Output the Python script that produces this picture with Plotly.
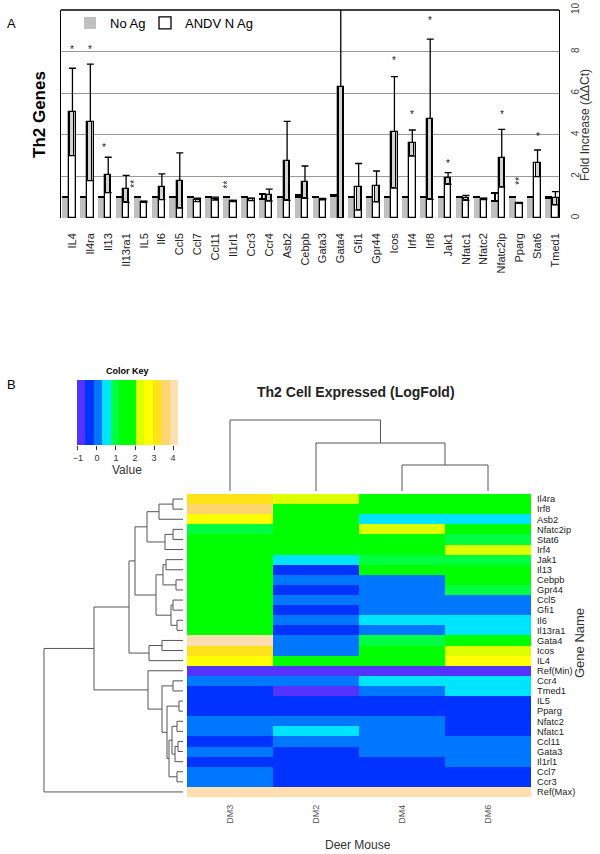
import plotly.graph_objects as go

# ---------------- Panel A data ----------------
genes = ["IL4", "Il4ra", "Il13", "Il13ra1", "IL5", "Il6", "Ccl5", "Ccl7", "Ccl11", "Il1rl1",
         "Ccr3", "Ccr4", "Asb2", "Cebpb", "Gata3", "Gata4", "Gfi1", "Gpr44", "Icos", "Irf4",
         "Irf8", "Jak1", "Nfatc1", "Nfatc2", "Nfatc2ip", "Pparg", "Stat6", "Tmed1"]
no_ag = [1.0, 1.0, 1.0, 1.0, 1.0, 1.0, 1.0, 1.0, 1.0, 1.0,
         1.0, 0.92, 1.0, 1.0, 1.0, 1.08, 1.0, 1.0, 1.0, 1.0,
         1.0, 1.0, 1.0, 1.0, 0.8, 1.0, 1.0, 0.95]
no_ag_err = [0.03, 0.03, 0.03, 0.03, 0.03, 0.03, 0.03, 0.03, 0.03, 0.03,
             0.03, 0.22, 0.03, 0.1, 0.03, 0.04, 0.03, 0.03, 0.03, 0.03,
             0.03, 0.03, 0.03, 0.03, 0.39, 0.03, 0.03, 0.04]
andv = [5.1, 4.6, 2.07, 1.4, 0.78, 1.5, 1.8, 0.87, 0.93, 0.82,
        0.9, 1.1, 2.75, 1.72, 0.9, 6.3, 1.5, 1.52, 4.12, 3.6,
        4.75, 1.9, 0.97, 0.92, 2.87, 0.72, 2.63, 0.95]
andv_err = [2.1, 2.8, 0.85, 0.65, 0.03, 0.62, 1.33, 0.08, 0.07, 0.03,
            0.06, 0.29, 1.9, 0.78, 0.03, 7.1, 1.12, 0.74, 2.68, 0.63,
            3.85, 0.28, 0.12, 0.04, 1.39, 0.02, 0.64, 0.32]
star_genes = ["IL4", "Il4ra", "Il13", "Il13ra1", "Il1rl1", "Icos", "Irf4", "Irf8",
              "Jak1", "Nfatc2ip", "Pparg", "Stat6"]
star_heights = [8.1, 8.1, 3.4, 1.66, 1.6, 7.55, 5.0, 9.5, 2.6, 5.0, 1.78, 3.9]
star_marks = ["*", "*", "*", "**", "**", "*", "*", "*", "*", "*", "**", "*"]
y_ticks = [0, 2, 4, 6, 8, 10]

# ---------------- Panel B data ----------------
heat_cols = ["DM3", "DM2", "DM4", "DM6"]
heat_rows = ["Il4ra", "Irf8", "Asb2", "Nfatc2ip", "Stat6", "Irf4", "Jak1", "Il13", "Cebpb",
             "Gpr44", "Ccl5", "Gfi1", "Il6", "Il13ra1", "Gata4", "Icos", "IL4", "Ref(Min)",
             "Ccr4", "Tmed1", "IL5", "Pparg", "Nfatc2", "Nfatc1", "Ccl11", "Gata3", "Il1rl1",
             "Ccl7", "Ccr3", "Ref(Max)"]
heat_values = [
    [3.15, 2.25, 1.5, 1.5],
    [3.6, 1.5, 1.5, 1.5],
    [2.7, 1.5, 0.5, 0.5],
    [0.95, 1.5, 2.25, 1.5],
    [1.5, 1.5, 1.5, 0.95],
    [1.5, 1.5, 1.5, 2.25],
    [1.5, 0.5, 0.95, 0.95],
    [1.5, -0.4, 1.5, 1.5],
    [1.5, 0.05, 0.05, 1.5],
    [1.5, -0.4, 0.05, 0.95],
    [1.5, 0.05, 0.05, 0.05],
    [1.5, -0.4, 0.05, 0.05],
    [1.5, 0.05, 0.5, 0.5],
    [1.5, -0.4, 0.05, 0.5],
    [4.05, 0.05, 0.95, 1.5],
    [3.15, 0.05, 1.5, 2.25],
    [2.7, 1.5, 1.5, 2.7],
    [-0.8, -0.8, -0.8, -0.8],
    [0.05, 0.05, 0.5, 0.5],
    [-0.4, -0.8, 0.05, 0.5],
    [-0.4, -0.4, -0.4, -0.4],
    [-0.4, -0.4, -0.4, -0.4],
    [0.05, 0.05, 0.05, -0.4],
    [0.05, 0.5, 0.05, -0.4],
    [-0.4, 0.05, 0.05, 0.05],
    [0.05, -0.4, 0.05, 0.05],
    [-0.4, -0.4, -0.4, 0.05],
    [0.05, -0.4, -0.4, -0.4],
    [0.05, -0.4, -0.4, -0.4],
    [4.05, 4.05, 4.05, 4.05],
]
key_colors = ["#5533FF", "#0033FF", "#0077FF", "#00E5FF", "#00FF40", "#00FF00",
              "#00FF00", "#DDFF00", "#FFFF00", "#FFE31A", "#FFD66E", "#FFDFB0"]
key_min, key_max = -1.05, 4.26
key_ticks = [-1, 0, 1, 2, 3, 4]

# dendrograms: (left, right, merge height); ints are leaf indices in display order
col_tree = (0, (1, (2, 3, 26), 48), 71)
row_tree = (
    (
        (
            (((0, 1, 10), 2, 24), ((3, 4, 10), 5, 18), 36),
            (((6, 7, 17), (8, 9, 7), 20), ((10, 11, 10), (12, 13, 6), 12), 27),
            48,
        ),
        ((14, 15, 21), 16, 34),
        54,
    ),
    (17, ((18, 19, 10), ((20, 21, 4), (((22, 23, 6), ((24, 25, 5), 26, 8), 11), (27, 28, 6), 14), 16), 21), 35),
    89,
)
row_tree = (row_tree, 29, 139)

# ---------------- helpers ----------------
FONT = "Liberation Sans, Arial, sans-serif"
W, H = 600, 854


def px(x):
    return x / W


def py(y):
    return 1 - y / H


def dendro_segments(node, a_list, b_list):
    """returns (position, height); appends elbow segments (position, height)."""
    if isinstance(node, int):
        return float(node), 0.0
    left, right, h = node
    pl, hl = dendro_segments(left, a_list, b_list)
    pr, hr = dendro_segments(right, a_list, b_list)
    a_list.extend([pl, pl, pr, pr, None])
    b_list.extend([hl, h, h, hr, None])
    return (pl + pr) / 2, h


fig = go.Figure()

# ---------------- Panel A traces ----------------
xi = list(range(len(genes)))
fig.add_trace(go.Bar(
    x=xi, y=no_ag, offset=-0.58, width=0.39, name="No Ag", legend="legend",
    marker=dict(color="#c0c0c0", line=dict(width=0)),
    error_y=dict(type="data", array=no_ag_err, arrayminus=[0] * len(no_ag),
                 color="black", thickness=2, width=3.5),
    xaxis="x", yaxis="y"))
fig.add_trace(go.Bar(
    x=xi, y=andv, offset=-0.18, width=0.36, name="ANDV N Ag", cliponaxis=False,
    legend="legend2",
    marker=dict(color="white", line=dict(color="black", width=1.3)),
    error_y=dict(type="data", array=andv_err, symmetric=True,
                 color="black", thickness=1.3, width=3.5),
    xaxis="x", yaxis="y"))
box_base = [max(v - e, 0) for v, e in zip(andv, andv_err)]
box_h = [v - b for v, b in zip(andv, box_base)]
fig.add_trace(go.Bar(
    x=xi, y=box_h, base=box_base, offset=-0.11, width=0.22, showlegend=False,
    marker=dict(color="#d2d2d2", line=dict(color="black", width=1)),
    xaxis="x", yaxis="y", hoverinfo="skip"))

star_nudge = {"Il13": -0.24, "Il13ra1": 0.45, "Il1rl1": -0.32}
annotations = []
for g, hgt, m in zip(star_genes, star_heights, star_marks):
    annotations.append(dict(
        x=genes.index(g) + star_nudge.get(g, 0), y=hgt, xref="x", yref="y",
        text=m, showarrow=False, textangle=-90 if len(m) > 1 else 0,
        xanchor="center", yanchor="middle",
        font=dict(size=10, color="#222", family=FONT)))

# ---------------- Panel B traces ----------------
n = len(key_colors)
cscale = []
for i, c in enumerate(key_colors):
    cscale.append([i / n, c])
    cscale.append([(i + 1) / n, c])

fig.add_trace(go.Heatmap(
    z=heat_values, x=list(range(len(heat_cols))), y=list(range(len(heat_rows))),
    colorscale=cscale, zmin=key_min, zmax=key_max, showscale=False,
    xaxis="x2", yaxis="y2", hoverinfo="skip"))

step = (key_max - key_min) / n
key_centers = [key_min + step * (i + 0.5) for i in range(n)]
fig.add_trace(go.Heatmap(
    z=[key_centers], x=key_centers, y=[0], colorscale=cscale, zmin=key_min, zmax=key_max,
    showscale=False, xaxis="x3", yaxis="y3", hoverinfo="skip"))

cx, ch = [], []
dendro_segments(col_tree, cx, ch)
fig.add_trace(go.Scatter(x=cx, y=ch, mode="lines", line=dict(color="#555", width=1),
                         showlegend=False, xaxis="x4", yaxis="y4", hoverinfo="skip"))
ry, rh = [], []
dendro_segments(row_tree, ry, rh)
fig.add_trace(go.Scatter(x=rh, y=ry, mode="lines", line=dict(color="#555", width=1),
                         showlegend=False, xaxis="x5", yaxis="y5", hoverinfo="skip"))


# ---------------- text ----------------
def txt(x, y, s, size, bold=False, angle=0, color="black"):
    annotations.append(dict(
        x=px(x), y=py(y), xref="paper", yref="paper", showarrow=False,
        xanchor="center", yanchor="middle",
        text=f"<b>{s}</b>" if bold else s, textangle=angle,
        font=dict(size=size, color=color, family=FONT)))


txt(11, 23, "A", 13)
txt(39, 115, "Th2 Genes", 17, bold=True, angle=-90)
txt(585, 125, "Fold Increase (ΔΔCt)", 12, angle=-90, color="#333")
txt(11, 385, "B", 13)
txt(127, 371, "Color Key", 9, bold=True)
txt(127, 470, "Value", 12, color="#333")
txt(356, 392, "Th2 Cell Expressed (LogFold)", 14, bold=True, color="#222")
txt(358, 845, "Deer Mouse", 12, color="#333")
txt(579, 643, "Gene Name", 13, angle=-90, color="#333")

common = dict(automargin=False, zeroline=False)
hidden = dict(common, showgrid=False, showticklabels=False, ticks="", showline=False)
leg = dict(orientation="h", yanchor="top", xanchor="left", y=py(8),
           font=dict(size=13, family=FONT), bgcolor="rgba(0,0,0,0)", itemwidth=30)

fig.update_layout(
    width=W, height=H, margin=dict(l=0, r=0, t=0, b=0, autoexpand=False),
    paper_bgcolor="white", plot_bgcolor="rgba(0,0,0,0)",
    font=dict(family=FONT, color="black"),
    barmode="overlay", bargap=0,
    showlegend=True,
    legend=dict(leg, x=px(70)),
    legend2=dict(leg, x=px(145)),
    xaxis=dict(common, domain=[px(61), px(559)], range=[-0.64, 27.2], anchor="y",
               tickmode="array", tickvals=xi, ticktext=genes, tickangle=-90,
               tickfont=dict(size=11, color="#222"), ticks="", ticklabelstandoff=12,
               showgrid=False, showline=False),
    yaxis=dict(common, domain=[py(218), py(10)], range=[0, 10], anchor="x", side="right",
               tickmode="array", tickvals=y_ticks, tickangle=-90,
               tickfont=dict(size=10, color="#444"), ticks="", ticklabelstandoff=7,
               showgrid=True, gridcolor="#9a9a9a", gridwidth=1.2,
               showline=True, linecolor="black", linewidth=1.3, mirror=True),
    xaxis2=dict(common, domain=[px(187), px(531)], range=[-0.5, 3.5], anchor="y2",
                tickmode="array", tickvals=list(range(len(heat_cols))), ticktext=heat_cols,
                tickangle=-90, tickfont=dict(size=9, color="#555"), ticks="",
                ticklabelstandoff=5, showgrid=False, showline=False),
    yaxis2=dict(common, domain=[py(797), py(494)], range=[len(heat_rows) - 0.5, -0.5], anchor="x2",
                side="right", tickmode="array", tickvals=list(range(len(heat_rows))),
                ticktext=heat_rows, tickfont=dict(size=9.3, color="#222"),
                ticks="", ticklabelstandoff=5, showgrid=False, showline=False),
    xaxis3=dict(common, domain=[px(77), px(178)], range=[key_min, key_max], anchor="y3",
                tickmode="array", tickvals=key_ticks, ticks="outside", ticklen=4,
                tickcolor="#333", tickfont=dict(size=9, color="#333"),
                showgrid=False, showline=False),
    yaxis3=dict(hidden, domain=[py(445), py(380)], range=[-0.5, 0.5], anchor="x3"),
    xaxis4=dict(hidden, domain=[px(187), px(531)], range=[-0.5, 3.5], anchor="y4"),
    yaxis4=dict(hidden, domain=[py(491), py(418)], range=[0, 73], anchor="x4"),
    xaxis5=dict(hidden, domain=[px(40), px(183)], range=[143, 0], anchor="y5"),
    yaxis5=dict(hidden, domain=[py(797), py(494)], range=[len(heat_rows) - 0.5, -0.5], anchor="x5"),
    annotations=annotations,
    shapes=[dict(type="line", xref="paper", yref="paper", x0=px(61), x1=px(559),
                 y0=py(10), y1=py(10), line=dict(color="black", width=1.3))],
)

fig.write_html("out.html", config={"displayModeBar": False},
               post_script="document.body.style.margin='0';document.body.style.overflow='hidden';")
